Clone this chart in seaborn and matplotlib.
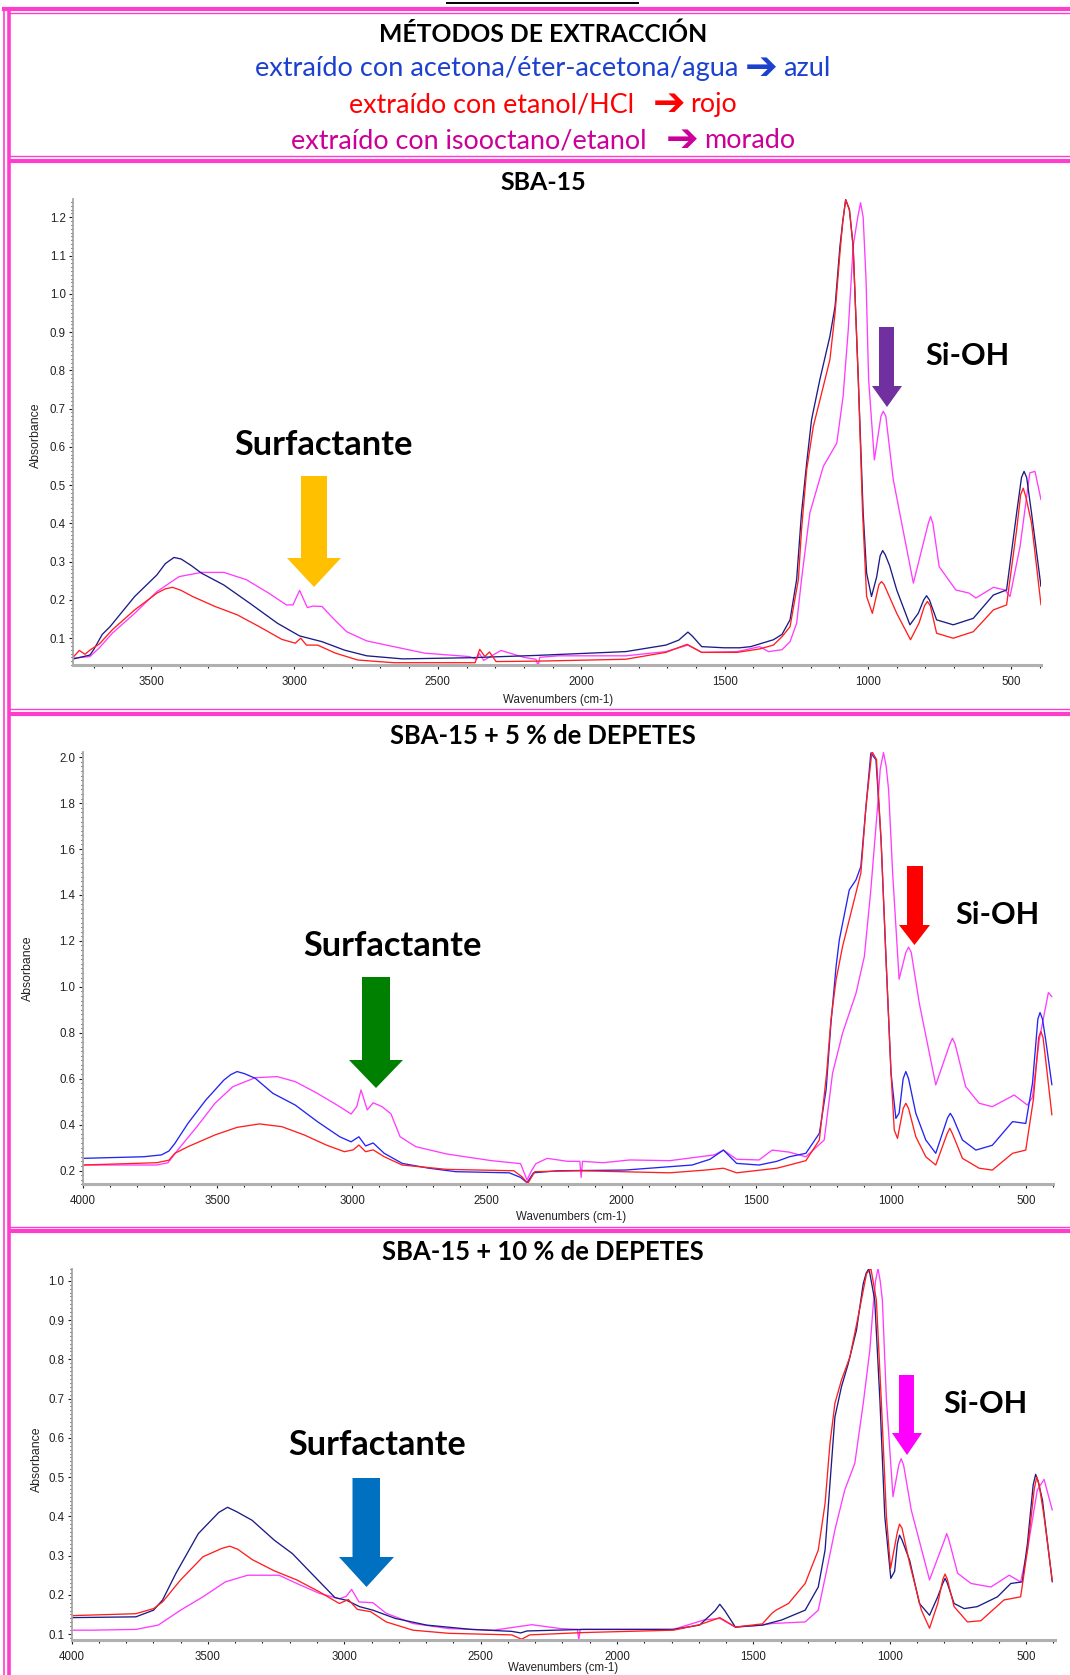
import matplotlib
matplotlib.use("Agg")
import matplotlib.pyplot as plt
from matplotlib.patches import Polygon
from matplotlib.lines import Line2D
from matplotlib.ticker import MultipleLocator, FormatStrFormatter
import pandas as pd
import seaborn as sns

# ---------------------------------------------------------------- data
# FTIR spectra (wavenumber in cm-1, absorbance) for three extraction methods

# SBA-15
sba15_azul_cm = [3770, 3713, 3700, 3670, 3643, 3557, 3480, 3450, 3420, 3395, 3360, 3324, 3246, 3153,
                 3059, 2982, 2904, 2826, 2748, 2623, 2390, 2158, 1845, 1705, 1660, 1645, 1628, 1612,
                 1580, 1502, 1447, 1409, 1330, 1300, 1272, 1249, 1232, 1214, 1197, 1168, 1133, 1115,
                 1098, 1088, 1078, 1065, 1052, 1034, 1017, 1005, 988, 970, 958, 949, 940, 925, 900,
                 854, 825, 806, 796, 786, 761, 703, 633, 563, 517, 482, 465, 456, 447, 430, 397]
sba15_azul_abs = [0.046, 0.056, 0.07, 0.11, 0.13, 0.209, 0.265, 0.295, 0.311, 0.307, 0.29, 0.27,
                  0.239, 0.19, 0.139, 0.106, 0.091, 0.069, 0.054, 0.046, 0.049, 0.055, 0.065, 0.082,
                  0.095, 0.105, 0.116, 0.105, 0.078, 0.075, 0.075, 0.078, 0.096, 0.11, 0.148, 0.253,
                  0.427, 0.558, 0.671, 0.776, 0.889, 0.967, 1.124, 1.19, 1.246, 1.22, 1.124, 0.776,
                  0.427, 0.27, 0.209, 0.26, 0.315, 0.329, 0.318, 0.29, 0.226, 0.135, 0.165, 0.2,
                  0.211, 0.2, 0.148, 0.135, 0.152, 0.213, 0.226, 0.427, 0.52, 0.536, 0.52, 0.427,
                  0.235]

sba15_rojo_cm = [3772, 3750, 3730, 3713, 3680, 3635, 3557, 3479, 3450, 3425, 3395, 3355, 3277, 3199,
                 3122, 3044, 2997, 2978, 2958, 2919, 2857, 2779, 2654, 2370, 2354, 2336, 2320, 2297,
                 2158, 1845, 1705, 1631, 1580, 1456, 1378, 1330, 1300, 1272, 1243, 1232, 1214, 1191,
                 1156, 1133, 1115, 1098, 1088, 1078, 1065, 1052, 1034, 1019, 1005, 985, 962, 953,
                 944, 900, 852, 822, 803, 793, 783, 761, 703, 633, 563, 517, 482, 468, 459, 450,
                 430, 397]
sba15_rojo_abs = [0.05, 0.068, 0.058, 0.069, 0.085, 0.122, 0.174, 0.218, 0.229, 0.233, 0.225, 0.209,
                  0.183, 0.161, 0.13, 0.097, 0.087, 0.1, 0.082, 0.082, 0.061, 0.043, 0.036, 0.036,
                  0.071, 0.052, 0.064, 0.039, 0.04, 0.045, 0.063, 0.084, 0.063, 0.063, 0.072, 0.082,
                  0.104, 0.13, 0.253, 0.383, 0.54, 0.653, 0.758, 0.828, 0.95, 1.107, 1.19, 1.246,
                  1.22, 1.124, 0.776, 0.427, 0.209, 0.165, 0.24, 0.248, 0.24, 0.165, 0.096, 0.14,
                  0.185, 0.196, 0.185, 0.113, 0.1, 0.117, 0.174, 0.187, 0.383, 0.475, 0.492, 0.47,
                  0.401, 0.187]

sba15_morado_cm = [3772, 3713, 3680, 3635, 3557, 3479, 3402, 3324, 3246, 3168, 3090, 3028, 3005, 2982,
                   2955, 2935, 2904, 2865, 2818, 2748, 2654, 2546, 2390, 2365, 2355, 2340, 2280, 2200,
                   2158, 2150, 2145, 2080, 1970, 1845, 1705, 1628, 1580, 1456, 1378, 1347, 1300, 1272,
                   1249, 1232, 1203, 1156, 1109, 1087, 1069, 1052, 1036, 1026, 1017, 1007, 998, 978,
                   955, 947, 938, 912, 842, 790, 782, 774, 752, 694, 648, 624, 563, 522, 505, 470, 436,
                   418, 397]
sba15_morado_abs = [0.048, 0.052, 0.075, 0.113, 0.165, 0.222, 0.261, 0.272, 0.272, 0.253, 0.218, 0.187,
                    0.187, 0.225, 0.18, 0.184, 0.183, 0.152, 0.117, 0.093, 0.078, 0.061, 0.052, 0.045,
                    0.06, 0.042, 0.068, 0.05, 0.045, 0.027, 0.05, 0.054, 0.054, 0.054, 0.065, 0.082,
                    0.063, 0.065, 0.078, 0.065, 0.07, 0.091, 0.139, 0.253, 0.427, 0.549, 0.61, 0.732,
                    0.906, 1.124, 1.2, 1.238, 1.2, 1.037, 0.776, 0.566, 0.68, 0.693, 0.68, 0.514, 0.244,
                    0.40, 0.418, 0.40, 0.287, 0.226, 0.218, 0.205, 0.233, 0.226, 0.209, 0.34, 0.532,
                    0.536, 0.462]

# SBA-15 + 5 % de DEPETES
dep5_azul_cm = [4000, 3774, 3708, 3680, 3658, 3609, 3543, 3476, 3450, 3427, 3400, 3360, 3294, 3211,
                3129, 3046, 3004, 2975, 2950, 2922, 2881, 2814, 2715, 2616, 2417, 2375, 2351, 2327,
                2237, 1987, 1738, 1672, 1622, 1573, 1490, 1424, 1377, 1316, 1266, 1241, 1223, 1204,
                1192, 1155, 1130, 1112, 1093, 1075, 1056, 1037, 1019, 1000, 982, 970, 955, 945, 935,
                908, 871, 834, 790, 780, 770, 735, 685, 624, 549, 500, 475, 455, 447, 438, 426, 403]
dep5_azul_abs = [0.253, 0.26, 0.268, 0.285, 0.318, 0.406, 0.507, 0.594, 0.618, 0.631, 0.622, 0.602,
                 0.536, 0.485, 0.413, 0.347, 0.325, 0.347, 0.307, 0.32, 0.275, 0.231, 0.21, 0.195,
                 0.19, 0.17, 0.147, 0.19, 0.199, 0.202, 0.224, 0.249, 0.289, 0.231, 0.224, 0.24,
                 0.26, 0.275, 0.362, 0.551, 0.841, 1.088, 1.204, 1.422, 1.466, 1.524, 1.785, 2.018,
                 1.989, 1.64, 1.132, 0.624, 0.427, 0.45, 0.6, 0.631, 0.6, 0.449, 0.333, 0.275, 0.43,
                 0.449, 0.43, 0.333, 0.289, 0.31, 0.413, 0.405, 0.58, 0.86, 0.888, 0.86, 0.769, 0.573]

dep5_rojo_cm = [4000, 3725, 3680, 3658, 3609, 3509, 3427, 3344, 3261, 3178, 3096, 3029, 2996, 2975,
                2950, 2922, 2881, 2814, 2649, 2400, 2370, 2348, 2322, 2152, 1821, 1689, 1622, 1573,
                1424, 1377, 1316, 1266, 1239, 1223, 1204, 1180, 1143, 1112, 1093, 1071, 1054, 1037,
                1019, 1000, 988, 976, 955, 945, 935, 908, 871, 834, 792, 782, 772, 735, 673, 624,
                549, 500, 472, 452, 444, 436, 426, 403]
dep5_rojo_abs = [0.224, 0.234, 0.245, 0.275, 0.304, 0.355, 0.388, 0.403, 0.391, 0.355, 0.311, 0.282,
                 0.29, 0.311, 0.282, 0.29, 0.26, 0.224, 0.205, 0.199, 0.173, 0.144, 0.195, 0.199,
                 0.19, 0.202, 0.21, 0.19, 0.21, 0.224, 0.243, 0.333, 0.624, 0.856, 1.03, 1.175,
                 1.349, 1.495, 1.785, 2.025, 1.99, 1.64, 1.132, 0.624, 0.376, 0.34, 0.47, 0.493,
                 0.47, 0.347, 0.26, 0.224, 0.36, 0.384, 0.36, 0.253, 0.21, 0.202, 0.275, 0.289,
                 0.507, 0.78, 0.805, 0.78, 0.681, 0.442]

dep5_morado_cm = [4000, 3725, 3683, 3642, 3576, 3509, 3443, 3360, 3278, 3211, 3129, 3046, 3004, 2983,
                  2967, 2944, 2922, 2889, 2856, 2822, 2764, 2649, 2483, 2375, 2351, 2334, 2318, 2276,
                  2200, 2155, 2150, 2145, 2069, 1970, 1821, 1656, 1622, 1573, 1490, 1441, 1377, 1316,
                  1248, 1217, 1180, 1130, 1099, 1075, 1050, 1040, 1028, 1018, 1009, 994, 970, 945,
                  935, 925, 895, 834, 782, 772, 762, 723, 673, 624, 543, 494, 475, 450, 416, 403]
dep5_morado_abs = [0.224, 0.224, 0.234, 0.297, 0.391, 0.493, 0.565, 0.604, 0.609, 0.587, 0.536, 0.478,
                   0.446, 0.478, 0.551, 0.464, 0.495, 0.478, 0.447, 0.347, 0.304, 0.272, 0.243, 0.23,
                   0.159, 0.2, 0.23, 0.253, 0.24, 0.24, 0.17, 0.24, 0.234, 0.246, 0.243, 0.268, 0.289,
                   0.249, 0.246, 0.289, 0.28, 0.26, 0.333, 0.624, 0.798, 0.972, 1.132, 1.422, 1.785,
                   1.95, 2.02, 1.96, 1.858, 1.495, 1.033, 1.15, 1.173, 1.15, 0.928, 0.573, 0.75, 0.776,
                   0.75, 0.565, 0.493, 0.478, 0.529, 0.485, 0.52, 0.769, 0.975, 0.957]

# SBA-15 + 10 % de DEPETES
dep10_azul_cm = [4000, 3764, 3699, 3666, 3617, 3535, 3460, 3428, 3395, 3338, 3256, 3190, 3108, 3034,
                 2991, 2944, 2895, 2813, 2698, 2534, 2386, 2353, 2330, 2121, 1793, 1697, 1640, 1623,
                 1605, 1566, 1467, 1396, 1310, 1262, 1237, 1219, 1201, 1177, 1152, 1122, 1097, 1086,
                 1076, 1055, 1036, 1018, 996, 982, 972, 964, 955, 927, 891, 854, 824, 805, 797, 789,
                 764, 727, 679, 605, 556, 514, 495, 474, 465, 456, 440, 404]
dep10_azul_abs = [0.142, 0.144, 0.161, 0.187, 0.255, 0.356, 0.41, 0.423, 0.412, 0.39, 0.339, 0.305,
                  0.246, 0.193, 0.186, 0.17, 0.161, 0.14, 0.123, 0.112, 0.107, 0.103, 0.108, 0.112,
                  0.112, 0.123, 0.16, 0.176, 0.16, 0.118, 0.123, 0.136, 0.161, 0.22, 0.314, 0.484,
                  0.653, 0.73, 0.789, 0.874, 0.993, 1.02, 1.031, 0.951, 0.696, 0.399, 0.242, 0.26,
                  0.33, 0.352, 0.34, 0.288, 0.178, 0.148, 0.195, 0.23, 0.242, 0.23, 0.178, 0.165,
                  0.17, 0.195, 0.229, 0.233, 0.331, 0.48, 0.507, 0.49, 0.441, 0.233]

dep10_rojo_cm = [4000, 3764, 3699, 3666, 3600, 3518, 3450, 3420, 3390, 3338, 3256, 3174, 3092, 3018,
                 2985, 2952, 2903, 2846, 2748, 2616, 2386, 2350, 2320, 2121, 1793, 1697, 1623, 1566,
                 1467, 1432, 1417, 1371, 1310, 1262, 1237, 1219, 1201, 1177, 1146, 1116, 1085, 1069,
                 1049, 1031, 1012, 997, 972, 964, 955, 927, 884, 854, 824, 805, 797, 789, 764, 715,
                 666, 581, 520, 495, 470, 461, 452, 434, 404]
dep10_rojo_abs = [0.147, 0.152, 0.165, 0.182, 0.238, 0.297, 0.318, 0.324, 0.316, 0.29, 0.261, 0.238,
                  0.208, 0.178, 0.188, 0.163, 0.157, 0.131, 0.11, 0.102, 0.098, 0.087, 0.098, 0.104,
                  0.11, 0.124, 0.142, 0.118, 0.126, 0.153, 0.161, 0.178, 0.229, 0.314, 0.433, 0.586,
                  0.688, 0.747, 0.806, 0.908, 1.018, 1.031, 0.951, 0.696, 0.399, 0.267, 0.36, 0.38,
                  0.37, 0.28, 0.161, 0.115, 0.178, 0.24, 0.253, 0.24, 0.17, 0.131, 0.134, 0.187,
                  0.195, 0.314, 0.47, 0.5, 0.48, 0.399, 0.236]

dep10_morado_cm = [4000, 3928, 3764, 3682, 3600, 3518, 3436, 3354, 3239, 3174, 3092, 3018, 2993, 2973,
                   2946, 2895, 2846, 2748, 2616, 2452, 2312, 2206, 2145, 2140, 2135, 1793, 1681, 1623,
                   1566, 1467, 1432, 1310, 1262, 1231, 1201, 1165, 1128, 1097, 1073, 1061, 1052, 1043,
                   1035, 1027, 1012, 988, 967, 958, 949, 921, 854, 799, 791, 783, 751, 702, 629, 562,
                   520, 495, 459, 434, 404]
dep10_morado_abs = [0.11, 0.11, 0.112, 0.123, 0.161, 0.195, 0.233, 0.25, 0.25, 0.229, 0.204, 0.19,
                    0.196, 0.214, 0.182, 0.18, 0.153, 0.127, 0.114, 0.11, 0.124, 0.114, 0.112, 0.085,
                    0.112, 0.112, 0.136, 0.14, 0.118, 0.123, 0.127, 0.131, 0.161, 0.263, 0.365, 0.467,
                    0.535, 0.688, 0.823, 0.933, 1.0, 1.031, 1.0, 0.951, 0.696, 0.45, 0.53, 0.547,
                    0.53, 0.416, 0.238, 0.34, 0.356, 0.34, 0.255, 0.229, 0.22, 0.25, 0.233, 0.314,
                    0.467, 0.494, 0.416]

metodos = ["morado", "azul", "rojo"]

# ---------------------------------------------------------------- figure
sns.set_style("white")
plt.rcParams["font.family"] = ["Lato", "DejaVu Sans"]

W, H = 1070, 1675
fig = plt.figure(figsize=(W / 100, H / 100), dpi=100)
renderer = fig.canvas.get_renderer()
PINK = "#ff3dcc"
AXFONT = "Liberation Sans"
ARROW = "➔"


def fx(x):
    return x / W


def fy(y):
    return 1 - y / H


def hline(y, x0, x1, lw, color=PINK):
    fig.add_artist(Line2D([fx(x0), fx(x1)], [fy(y), fy(y)], transform=fig.transFigure,
                          color=color, lw=lw, solid_capstyle="butt"))


def vline(x, y0, y1, lw, color=PINK):
    fig.add_artist(Line2D([fx(x), fx(x)], [fy(y0), fy(y1)], transform=fig.transFigure,
                          color=color, lw=lw, solid_capstyle="butt"))


def text_fit(x, y, s, width, color="black", weight="normal"):
    t = fig.text(fx(x), fy(y), s, ha="center", va="baseline", color=color, fontsize=16,
                 fontweight=weight, family=["Lato", "DejaVu Sans"])
    w = t.get_window_extent(renderer=renderer).width
    t.set_fontsize(16 * width / w)
    return t


def text_row(xc, y, pieces, width, color, arrow_scale=1.45, arrow_drop=3.5):
    """A centred line made of text pieces and blank gaps (gaps in em)."""
    base = 16.0
    items = []
    for p in pieces:
        if isinstance(p, str):
            heavy = p == ARROW
            t = fig.text(0, fy(y), p, ha="left", va="baseline", color=color,
                         fontsize=base * (arrow_scale if heavy else 1.0),
                         fontweight="bold" if heavy else "normal",
                         family=["DejaVu Sans"] if heavy else ["Lato", "DejaVu Sans"])
            t._rel = arrow_scale if heavy else 1.0
            items.append(t)
        else:
            items.append(p)

    def total(size):
        tot = 0.0
        for it in items:
            if isinstance(it, float):
                tot += it * size * 100 / 72
            else:
                tot += it.get_window_extent(renderer=renderer).width
        return tot

    size = base * width / total(base)
    for it in items:
        if not isinstance(it, float):
            it.set_fontsize(size * it._rel)
    x = xc - total(size) / 2
    for it in items:
        if isinstance(it, float):
            x += it * size * 100 / 72
        else:
            it.set_x(fx(x))
            if it._rel != 1.0:
                it.set_y(fy(y + arrow_drop))
            x += it.get_window_extent(renderer=renderer).width


def block_arrow(x0, x1, top, base, hx0, hx1, tip, color):
    pts = [(x0, top), (x1, top), (x1, base), (hx1, base), ((hx0 + hx1) / 2, tip),
           (hx0, base), (x0, base)]
    fig.add_artist(Polygon([(fx(a), fy(b)) for a, b in pts], closed=True,
                           transform=fig.transFigure, facecolor=color, edgecolor="none"))


# page frame (double pink rules)
hline(3, 446, 639, 1.4, color="black")
hline(9.3, 2, W, 3.0)
hline(12.8, 8, W, 1.0)
vline(4.0, 7, H, 1.2)
vline(9.0, 11, H, 2.6)
for thin_y, thick_y in [(156.0, 160.8), (709.0, 713.5), (1226.6, 1230.6)]:
    hline(thin_y, 9, W, 1.0)
    hline(thick_y, 9, W, 3.0)

# header
text_fit(543, 41.5, "MÉTODOS DE EXTRACCIÓN", 328, weight="bold")
text_row(543, 76, ["extraído con acetona/éter-acetona/agua", 0.22, ARROW, 0.2, "azul"], 577,
         "#1d41cf")
text_row(543, 112, ["extraído con etanol/HCl", 0.7, ARROW, 0.2, "rojo"], 389, "#ff0000")
text_row(543, 148, ["extraído con isooctano/etanol", 0.7, ARROW, 0.2, "morado"], 505, "#cc0099")

panels = [
    dict(title="SBA-15", title_w=86, title_y=190,
         series=[(sba15_morado_cm, sba15_morado_abs), (sba15_azul_cm, sba15_azul_abs),
                 (sba15_rojo_cm, sba15_rojo_abs)],
         box=(73, 1041, 199.3, 665), xlim=(3772, 397), ylim=(0.03, 1.247),
         ymaj=0.1, ymin=0.01, azul="#1c1c86",
         ylab=(36, 435), xlab=(558, 700)),
    dict(title="SBA-15 + 5 % de DEPETES", title_w=306, title_y=744,
         series=[(dep5_morado_cm, dep5_morado_abs), (dep5_azul_cm, dep5_azul_abs),
                 (dep5_rojo_cm, dep5_rojo_abs)],
         box=(82.7, 1052.7, 751.7, 1184.3), xlim=(4000, 400), ylim=(0.14, 2.024),
         ymaj=0.2, ymin=0.02, azul="#2424f5",
         ylab=(28, 968), xlab=(571, 1216.7)),
    dict(title="SBA-15 + 10 % de DEPETES", title_w=322, title_y=1260,
         series=[(dep10_morado_cm, dep10_morado_abs), (dep10_azul_cm, dep10_azul_abs),
                 (dep10_rojo_cm, dep10_rojo_abs)],
         box=(71.5, 1055, 1269, 1640), xlim=(4000, 394), ylim=(0.085, 1.03),
         ymaj=0.1, ymin=0.01, azul="#1c1c86",
         ylab=(37, 1459), xlab=(563, 1668)),
]

for p in panels:
    l, r, t, b = p["box"]
    ax = fig.add_axes([fx(l), fy(b), (r - l) / W, (b - t) / H])
    frames = []
    for name, (cm, ab) in zip(metodos, p["series"]):
        frames.append(pd.DataFrame({"cm": cm, "abs": ab, "metodo": name}))
    df = pd.concat(frames, ignore_index=True)
    palette = {"morado": "#ff3cff", "azul": p["azul"], "rojo": "#ff1f1f"}
    sns.lineplot(data=df, x="cm", y="abs", hue="metodo", hue_order=metodos, palette=palette,
                 sort=False, estimator=None, legend=False, lw=0.95, ax=ax)
    ax.set_xlim(*p["xlim"])
    ax.set_ylim(*p["ylim"])
    ax.set_xlabel("")
    ax.set_ylabel("")
    ax.patch.set_alpha(0)
    for s in ("top", "right"):
        ax.spines[s].set_visible(False)
    ax.spines["left"].set_color("#a8a8a8")
    ax.spines["left"].set_linewidth(1.3)
    ax.spines["bottom"].set_color("#b0b0b0")
    ax.spines["bottom"].set_linewidth(2.2)
    ax.xaxis.set_major_locator(MultipleLocator(500))
    ax.xaxis.set_minor_locator(MultipleLocator(100))
    ax.yaxis.set_major_locator(MultipleLocator(p["ymaj"]))
    ax.yaxis.set_minor_locator(MultipleLocator(p["ymin"]))
    ax.yaxis.set_major_formatter(FormatStrFormatter("%.1f"))
    ax.tick_params(which="both", direction="out", color="#222222", width=0.8,
                   left=True, bottom=True)
    ax.tick_params(which="major", length=3.2)
    ax.tick_params(which="minor", length=1.8)
    ax.tick_params(axis="x", which="major", pad=4.5)
    ax.tick_params(axis="y", which="major", pad=2)
    for lab in ax.get_xticklabels() + ax.get_yticklabels():
        lab.set_family(AXFONT)
        lab.set_fontsize(8.3)
        lab.set_color("#222222")
    fig.text(fx(p["ylab"][0]), fy(p["ylab"][1]), "Absorbance", rotation=90, ha="center",
             va="center", family=AXFONT, fontsize=8.8, color="#222222")
    fig.text(fx(p["xlab"][0]), fy(p["xlab"][1]), "Wavenumbers (cm-1)", ha="center",
             va="center", family=AXFONT, fontsize=8.3, color="#222222")
    text_fit(543, p["title_y"], p["title"], p["title_w"], weight="bold")

# band annotations
text_fit(324, 455, "Surfactante", 179, weight="bold")
text_fit(393, 956, "Surfactante", 179, weight="bold")
text_fit(377, 1455, "Surfactante", 178, weight="bold")
text_fit(967, 365, "Si-OH", 84, weight="bold")
text_fit(997, 924, "Si-OH", 84, weight="bold")
text_fit(985, 1413, "Si-OH", 84, weight="bold")

block_arrow(301, 327, 476, 558, 287, 341, 587, "#ffc000")
block_arrow(879, 894, 327, 386, 872, 902, 407, "#7030a0")
block_arrow(362, 390, 977, 1060, 349, 403, 1088, "#008000")
block_arrow(907, 923, 866, 925, 899, 930, 945, "#ff0000")
block_arrow(352.5, 380, 1478, 1557, 339, 394, 1587, "#0070c0")
block_arrow(899, 914, 1375, 1433, 892, 922, 1455, "#ff00ff")

fig.savefig("out.png", dpi=100)
